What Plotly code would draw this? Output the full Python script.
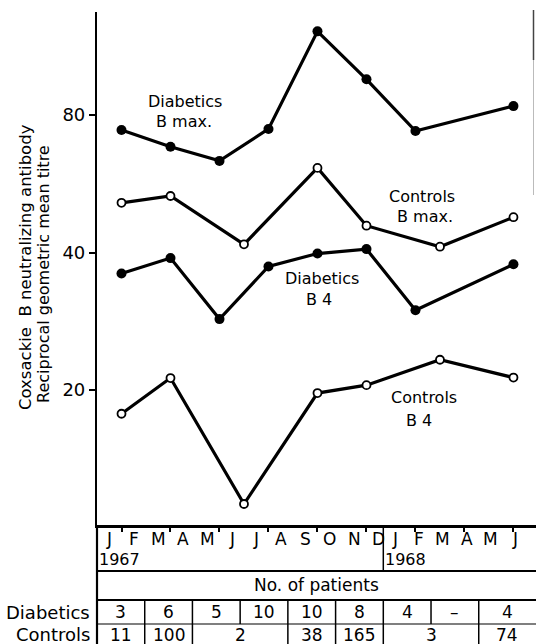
import numpy as np
import plotly.graph_objects as go

# ---------------- data ----------------
# x = month index from Jan 1967 (0) ; points at centres of two-month periods
period_x = [1, 3, 5, 7, 9, 11, 13, 15, 17]

diab_bmax_x = [1, 3, 5, 7, 9, 11, 13, 17]
diab_bmax = [74.2, 68.2, 63.5, 74.6, 122.0, 95.8, 73.8, 83.7]

ctrl_bmax_x = [1, 3, 6, 9, 11, 14, 17]
ctrl_bmax = [51.4, 53.2, 41.7, 61.3, 45.8, 41.2, 47.8]

diab_b4_x = [1, 3, 5, 7, 9, 11, 13, 17]
diab_b4 = [36.0, 38.9, 28.6, 37.3, 39.8, 40.7, 29.9, 37.7]

ctrl_b4_x = [1, 3, 6, 9, 11, 14, 17]
ctrl_b4 = [17.75, 21.25, 11.26, 19.7, 20.5, 23.3, 21.3]

y_ticks = [20, 40, 80]
month_labels = ["J", "F", "M", "A", "M", "J", "J", "A", "S", "O", "N", "D",
                "J", "F", "M", "A", "M", "J"]
year_labels = ["1967", "1968"]

diab_counts = ["3", "6", "5", "10", "10", "8", "4", "–", "4"]
diab_spans = [(0, 2), (2, 4), (4, 6), (6, 8), (8, 10), (10, 12), (12, 14), (14, 16), (16, 18.4)]
ctrl_counts = ["11", "100", "2", "38", "165", "3", "74"]
ctrl_spans = [(0, 2), (2, 4), (4, 8), (8, 10), (10, 12), (12, 16), (16, 18.4)]

# ---------------- geometry ----------------
W, H = 536, 644
L, R, T, B = 97, 0, 12, 119
PH = H - T - B  # plot height in px
PW = W - L - R
FONT = "DejaVu Sans"


def py(ypx):
    """pixel row -> paper y"""
    return (H - B - ypx) / PH


def px(xpx):
    """pixel column -> paper x"""
    return (xpx - L) / PW


fig = go.Figure()

line_w = 3.2
fig.add_trace(go.Scatter(x=diab_bmax_x, y=diab_bmax, mode="lines+markers",
                         line=dict(color="black", width=line_w),
                         marker=dict(symbol="circle", size=10, color="black"),
                         showlegend=False))
fig.add_trace(go.Scatter(x=ctrl_bmax_x, y=ctrl_bmax, mode="lines+markers",
                         line=dict(color="black", width=line_w),
                         marker=dict(symbol="circle", size=8, color="white",
                                     line=dict(color="black", width=1.8)),
                         showlegend=False))
fig.add_trace(go.Scatter(x=diab_b4_x, y=diab_b4, mode="lines+markers",
                         line=dict(color="black", width=line_w),
                         marker=dict(symbol="circle", size=10, color="black"),
                         showlegend=False))
fig.add_trace(go.Scatter(x=ctrl_b4_x, y=ctrl_b4, mode="lines+markers",
                         line=dict(color="black", width=line_w),
                         marker=dict(symbol="circle", size=8, color="white",
                                     line=dict(color="black", width=1.8)),
                         showlegend=False))

# invisible trace to activate x2 (table scale)
fig.add_trace(go.Scatter(x=[0], y=[20], xaxis="x2", mode="markers",
                         marker=dict(opacity=0), showlegend=False, hoverinfo="skip"))

shapes = []
annotations = []


def text_at(text, xpx, ypx, size, xanchor="center", angle=0):
    annotations.append(dict(text=text, xref="paper", yref="paper",
                            x=px(xpx), y=py(ypx), textangle=angle,
                            xanchor=xanchor, yanchor="middle", showarrow=False,
                            font=dict(family=FONT, size=size, color="black")))


LS = 16
text_at("Diabetics", 185, 101, LS)
text_at("B max.", 184, 121, LS)
text_at("Controls", 422, 196, LS)
text_at("B max.", 425, 216, LS)
text_at("Diabetics", 322, 278, LS)
text_at("B 4", 319, 299, LS)
text_at("Controls", 424, 397, LS)
text_at("B 4", 419, 420, LS)

# y-axis title (two lines)
text_at("Coxsackie  B neutralizing antibody", 25, 267, 16.5, angle=-90)
text_at("Reciprocal geometric mean titre", 43, 274, 16, angle=-90)

# --- table ---
y_month_bot = 571
y_np_bot = 600
y_mid = 624
y_bot = H


def hline(ypx, w=2):
    shapes.append(dict(type="line", xref="paper", yref="paper", x0=0, x1=1,
                       y0=py(ypx), y1=py(ypx), line=dict(color="black", width=w)))


def vline_x2(xv, y0px, y1px, w=1.5):
    shapes.append(dict(type="line", xref="x2", yref="paper", x0=xv, x1=xv,
                       y0=py(y0px), y1=py(y1px), line=dict(color="black", width=w)))


hline(y_month_bot, 2.2)
hline(y_np_bot, 2)
hline(y_mid, 1.2)
shapes.append(dict(type="line", xref="paper", yref="paper", x0=0, x1=0,
                   y0=py(H - B), y1=py(y_bot), line=dict(color="black", width=2.2)))
vline_x2(12, H - B, y_month_bot)

for (a, b) in diab_spans[1:]:
    vline_x2(a, y_np_bot, y_mid)
for (a, b) in ctrl_spans[1:]:
    vline_x2(a, y_mid, y_bot)

TS = 17
for i, m in enumerate(month_labels):
    xref = "x" if i < 12 else "x2"
    annotations.append(dict(text=m, xref=xref, yref="paper", x=i + 0.5, y=py(539),
                            xanchor="center", yanchor="middle", showarrow=False,
                            font=dict(family=FONT, size=TS, color="black")))
for j, yr in enumerate(year_labels):
    annotations.append(dict(text=yr, xref="x2", yref="paper", x=12 * j, xshift=0,
                            y=py(559), xanchor="left", yanchor="middle", showarrow=False,
                            font=dict(family=FONT, size=16, color="black")))

annotations.append(dict(text="No. of patients", xref="paper", yref="paper", x=0.5,
                        y=py(585), xanchor="center", yanchor="middle", showarrow=False,
                        font=dict(family=FONT, size=TS, color="black")))

for txt, (a, b) in zip(diab_counts, diab_spans):
    annotations.append(dict(text=txt, xref="x2", yref="paper", x=(a + b) / 2,
                            y=py(612), xanchor="center", yanchor="middle", showarrow=False,
                            font=dict(family=FONT, size=TS, color="black")))
for txt, (a, b) in zip(ctrl_counts, ctrl_spans):
    annotations.append(dict(text=txt, xref="x2", yref="paper", x=(a + b) / 2,
                            y=py(635), xanchor="center", yanchor="middle", showarrow=False,
                            font=dict(family=FONT, size=TS, color="black")))

text_at("Diabetics", 92, 612, 18, xanchor="right")
text_at("Controls", 92, 635, 18, xanchor="right")

# faint scan border on the right
shapes.append(dict(type="line", xref="paper", yref="paper", x0=px(533.5), x1=px(533.5),
                   y0=py(10), y1=py(60), line=dict(color="#444", width=1.5)))
shapes.append(dict(type="line", xref="paper", yref="paper", x0=px(533.5), x1=px(533.5),
                   y0=py(60), y1=py(195), line=dict(color="#bbb", width=1)))

fig.update_layout(
    width=W, height=H,
    margin=dict(l=L, r=R, t=T, b=B, pad=0),
    paper_bgcolor="white", plot_bgcolor="white",
    font=dict(family=FONT, size=16, color="black"),
    showlegend=False,
    xaxis=dict(range=[0, 17.92], showgrid=False, zeroline=False,
               showline=True, linecolor="black", linewidth=2.5,
               tickmode="array", tickvals=period_x, ticks="outside",
               ticklen=4, tickwidth=2, tickcolor="black", showticklabels=False),
    xaxis2=dict(range=[0, 18.4], overlaying="x", side="bottom", visible=False),
    yaxis=dict(type="log", range=[np.log10(10.13), np.log10(134.5)],
               showgrid=False, zeroline=False, showline=True, linecolor="black",
               linewidth=2.2, tickmode="array", tickvals=y_ticks,
               ticktext=[str(v) for v in y_ticks], ticks="outside", ticklen=6,
               tickwidth=2, tickcolor="black",
               tickfont=dict(family=FONT, size=18, color="black")),
    shapes=shapes, annotations=annotations,
)

fig.write_html("out.html")
